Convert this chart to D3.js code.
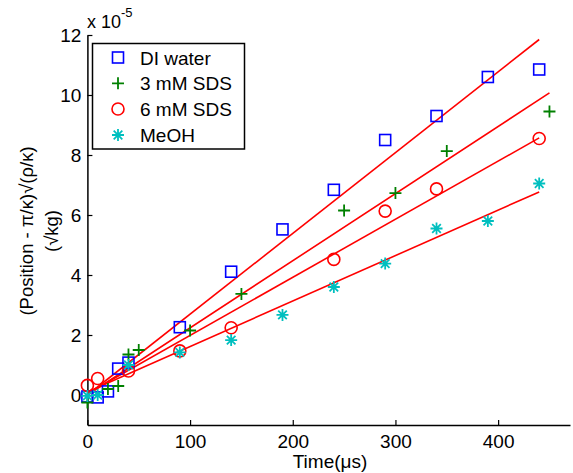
<!DOCTYPE html>
<html>
<head>
<meta charset="utf-8">
<script src="https://cdn.jsdelivr.net/npm/d3@7"></script>
<style>
  body { margin: 0; background: #fff; }
  text { font-family: "Liberation Sans", Arial, sans-serif; }
</style>
</head>
<body>
<div id="chart"></div>
<script>
// data (y in units of 1e-5)
const diX = [0, 10, 20, 30, 40, 90, 140, 190, 240, 290, 340, 390, 440];
const diY = [-0.05, -0.08, 0.12, 0.88, 1.08, 2.26, 4.11, 5.52, 6.84, 8.5, 9.3, 10.6, 10.85];
const sds3X = [0, 20, 30, 40, 50, 100, 150, 250, 300, 350, 450];
const sds3Y = [-0.25, 0.2, 0.3, 1.35, 1.5, 2.15, 3.37, 6.15, 6.73, 8.13, 9.45];
const sds6X = [0, 10, 40, 90, 140, 240, 290, 340, 440];
const sds6Y = [0.32, 0.55, 0.8, 1.47, 2.24, 4.52, 6.13, 6.87, 8.55];
const meohX = [0, 10, 40, 90, 140, 190, 240, 290, 340, 390, 440];
const meohY = [-0.03, 0.0, 1.0, 1.42, 1.83, 2.67, 3.6, 4.38, 5.55, 5.8, 7.05];

// fit line end points
const fitDiX = [0, 440], fitDiY = [0, 11.85];
const fit3X = [0, 450], fit3Y = [0, 10.07];
const fit6X = [0, 440], fit6Y = [0.05, 8.57];
const fitMeX = [0, 440], fitMeY = [0.1, 6.77];

const xTicks = [0, 100, 200, 300, 400];
const yTicks = [0, 2, 4, 6, 8, 10, 12];
const names = ['DI water', '3 mM SDS', '6 mM SDS', 'MeOH'];

const W = 573, H = 473;
const svg = d3.select('#chart').append('svg').attr('width', W).attr('height', H);

const x = d3.scaleLinear().domain([0, 470]).range([87.4, 570]);
const y = d3.scaleLinear().domain([-1, 12]).range([425, 35]);

const g = svg.append('g');

// axes
const xAxis = d3.axisBottom(x).tickValues(xTicks).tickSizeInner(-5).tickSizeOuter(0).tickPadding(10);
const yAxis = d3.axisLeft(y).tickValues(yTicks).tickSizeInner(-5).tickSizeOuter(0).tickPadding(6);

const gx = g.append('g').attr('transform', 'translate(0,' + y(-1) + ')').call(xAxis);
const gy = g.append('g').attr('transform', 'translate(' + x(0) + ',0)').call(yAxis);
[gx, gy].forEach(a => {
  a.select('.domain').attr('stroke', '#000').attr('stroke-width', 1.5);
  a.selectAll('.tick line').attr('stroke', '#000').attr('stroke-width', 1.2);
  a.selectAll('.tick text').attr('fill', '#000').style('font-size', '19px')
    .style('font-family', '"Liberation Sans", Arial, sans-serif');
});

// exponent
const ex = svg.append('text').attr('x', 87).attr('y', 28).style('font-size', '18px');
ex.append('tspan').text('x 10');
ex.append('tspan').attr('dy', -11).style('font-size', '13px').text('-5');

// axis titles
svg.append('text').attr('x', 330).attr('y', 468).attr('text-anchor', 'middle')
  .style('font-size', '19px').text('Time(\u03bcs)');
svg.append('text').attr('transform', 'translate(33,231) rotate(-90)').attr('text-anchor', 'middle')
  .style('font-size', '18.5px').text('(Position - \u03c0/\u03ba)\u221a(\u03c1/\u03ba)');
svg.append('text').attr('transform', 'translate(58,231) rotate(-90)').attr('text-anchor', 'middle')
  .style('font-size', '18.5px').text('(\u221akg)');

// fit lines
const line = d3.line().x(d => x(d[0])).y(d => y(d[1]));
[[fitDiX, fitDiY], [fit3X, fit3Y], [fit6X, fit6Y], [fitMeX, fitMeY]].forEach(f => {
  g.append('path').datum(d3.zip(f[0], f[1])).attr('d', line)
    .attr('fill', 'none').attr('stroke', '#ff0000').attr('stroke-width', 1.6);
});

// marker shapes
function marker(sel, kind) {
  if (kind === 0) {
    sel.append('rect').attr('x', -5.5).attr('y', -5.5).attr('width', 11).attr('height', 11)
      .attr('fill', 'none').attr('stroke', '#0000ff').attr('stroke-width', 1.6);
  } else if (kind === 1) {
    sel.append('path').attr('d', 'M-6,0H6M0,-6V6')
      .attr('stroke', '#008000').attr('stroke-width', 1.8);
  } else if (kind === 2) {
    sel.append('circle').attr('r', 6)
      .attr('fill', 'none').attr('stroke', '#ff0000').attr('stroke-width', 1.6);
  } else {
    sel.append('path').attr('d', 'M-6,0H6M0,-6V6M-4.3,-4.3L4.3,4.3M-4.3,4.3L4.3,-4.3')
      .attr('stroke', '#00bfbf').attr('stroke-width', 1.8);
  }
}

[[diX, diY], [sds3X, sds3Y], [sds6X, sds6Y], [meohX, meohY]].forEach((s, k) => {
  g.append('g').selectAll('g').data(d3.zip(s[0], s[1])).enter().append('g')
    .attr('transform', d => 'translate(' + x(d[0]) + ',' + y(d[1]) + ')')
    .each(function () { marker(d3.select(this), k); });
});

// legend
const lg = svg.append('g');
lg.append('rect').attr('x', 92.5).attr('y', 43.5).attr('width', 152).attr('height', 105.5)
  .attr('fill', '#fff').attr('stroke', '#000').attr('stroke-width', 1.5);
const rowY = [57.5, 83.3, 109, 135];
names.forEach((n, i) => {
  const r = lg.append('g').attr('transform', 'translate(118,' + rowY[i] + ')');
  marker(r, i);
  lg.append('text').attr('x', 140).attr('y', rowY[i] + 7).style('font-size', '19px').text(n);
});
</script>
</body>
</html>
